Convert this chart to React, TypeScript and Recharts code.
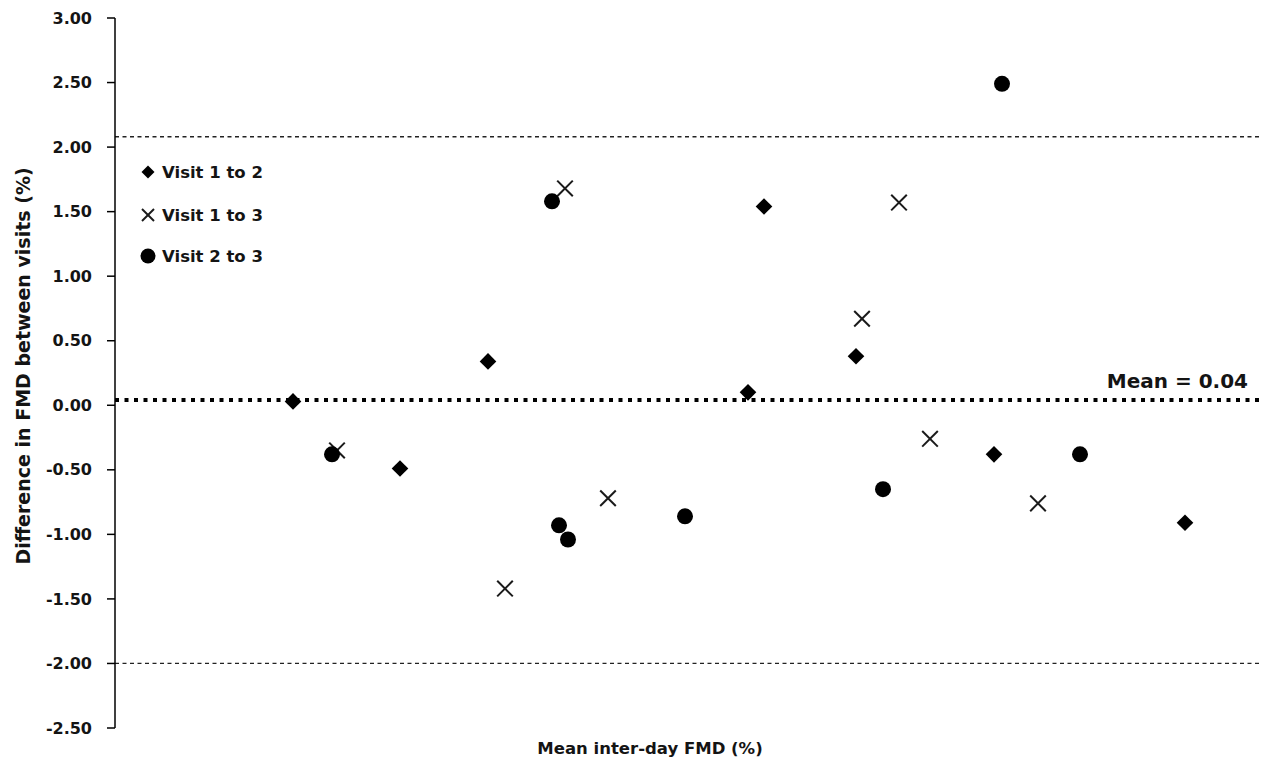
import React from 'react';
import { ScatterChart, Scatter, XAxis, YAxis, ReferenceLine } from 'recharts';

// Mean inter-day FMD (%) (x) and difference between visits (%) (y)
const visit12X = [1.78, 2.85, 3.73, 6.33, 6.49, 7.41, 8.79, 10.70];
const visit12Y = [0.03, -0.49, 0.34, 0.10, 1.54, 0.38, -0.38, -0.91];
const visit13X = [2.22, 3.90, 4.50, 4.93, 7.47, 7.84, 8.15, 9.23];
const visit13Y = [-0.35, -1.42, 1.68, -0.72, 0.67, 1.57, -0.26, -0.76];
const visit23X = [2.17, 4.37, 4.44, 4.53, 5.70, 7.68, 8.87, 9.65];
const visit23Y = [-0.38, 1.58, -0.93, -1.04, -0.86, -0.65, 2.49, -0.38];

const yTicks = [-2.5, -2.0, -1.5, -1.0, -0.5, 0, 0.5, 1.0, 1.5, 2.0, 2.5, 3.0];
const meanDiff = 0.04;
const upperLimit = 2.08;
const lowerLimit = -2.0;
const legendLabels = ['Visit 1 to 2', 'Visit 1 to 3', 'Visit 2 to 3'];

const toPoints = (xs: number[], ys: number[]) => xs.map((x, i) => ({ x, y: ys[i] }));
const d12 = toPoints(visit12X, visit12Y);
const d13 = toPoints(visit13X, visit13Y);
const d23 = toPoints(visit23X, visit23Y);

const FONT = '"DejaVu Sans", sans-serif';
const TXT = '#141414';

const Diamond = (p: any) => {
  const { cx, cy } = p;
  const r = p.r ?? 8.3;
  return <polygon points={`${cx},${cy - r} ${cx + r},${cy} ${cx},${cy + r} ${cx - r},${cy}`} fill="#000" />;
};
const Cross = (p: any) => {
  const { cx, cy } = p;
  const r = p.r ?? 7.8;
  return (
    <g stroke="#1a1a1a" strokeWidth={2}>
      <line x1={cx - r} y1={cy - r} x2={cx + r} y2={cy + r} />
      <line x1={cx - r} y1={cy + r} x2={cx + r} y2={cy - r} />
    </g>
  );
};
const Dot = (p: any) => {
  const { cx, cy } = p;
  const r = p.r ?? 8;
  return <circle cx={cx} cy={cy} r={r} fill="#000" />;
};

const MeanLabel = (props: any) => {
  const vb = props.viewBox || {};
  return (
    <text x={vb.x + vb.width - 12} y={vb.y - 12} textAnchor="end" fontFamily={FONT} fontWeight="bold" fontSize={20} fill={TXT}>
      Mean = {meanDiff.toFixed(2)}
    </text>
  );
};

const W = 1253;
const H = 749;

export default function App() {
  return (
    <div style={{ position: 'relative', width: W, height: H }}>
      <ScatterChart width={W} height={H} margin={{ top: 10, right: 1, bottom: 29, left: 0 }}>
        <XAxis type="number" dataKey="x" domain={[0, 11.45]} hide />
        <YAxis
          type="number"
          dataKey="y"
          domain={[-2.5, 3]}
          ticks={yTicks}
          interval={0}
          width={107}
          tickFormatter={(v: number) => v.toFixed(2)}
          axisLine={{ stroke: '#000', strokeWidth: 1.5 }}
          tickLine={{ stroke: '#000', strokeWidth: 1.5 }}
          tickSize={8}
          tickMargin={15}
          tick={{ fontFamily: FONT, fontWeight: 'bold', fontSize: 16, fill: TXT }}
        />
        <ReferenceLine y={upperLimit} stroke="#222" strokeWidth={1.3} strokeDasharray="4 3.5" />
        <ReferenceLine y={lowerLimit} stroke="#222" strokeWidth={1.3} strokeDasharray="4 3.5" />
        <ReferenceLine y={meanDiff} stroke="#000" strokeWidth={4} strokeDasharray="4 5.5" label={<MeanLabel />} />
        <Scatter data={d12} shape={<Diamond />} isAnimationActive={false} />
        <Scatter data={d13} shape={<Cross />} isAnimationActive={false} />
        <Scatter data={d23} shape={<Dot />} isAnimationActive={false} />
      </ScatterChart>
      <svg width={W} height={H} style={{ position: 'absolute', left: 0, top: 0, pointerEvents: 'none' }}>
        <text
          transform={`translate(15, 358) rotate(-90)`}
          textAnchor="middle"
          dominantBaseline="central"
          fontFamily={FONT}
          fontWeight="bold"
          fontSize={19}
          fill={TXT}
        >
          Difference in FMD between visits (%)
        </text>
        <text x={642} y={746} textAnchor="middle" fontFamily={FONT} fontWeight="bold" fontSize={16.5} fill={TXT}>
          Mean inter-day FMD (%)
        </text>
        <Diamond cx={140} cy={164} r={6.5} />
        <Cross cx={140} cy={207} r={6} />
        <Dot cx={140} cy={248} r={7.5} />
        {legendLabels.map((t, i) => (
          <text key={t} x={154} y={[164, 207, 248][i]} dominantBaseline="central" fontFamily={FONT} fontWeight="bold" fontSize={16.5} fill={TXT}>
            {t}
          </text>
        ))}
      </svg>
    </div>
  );
}
